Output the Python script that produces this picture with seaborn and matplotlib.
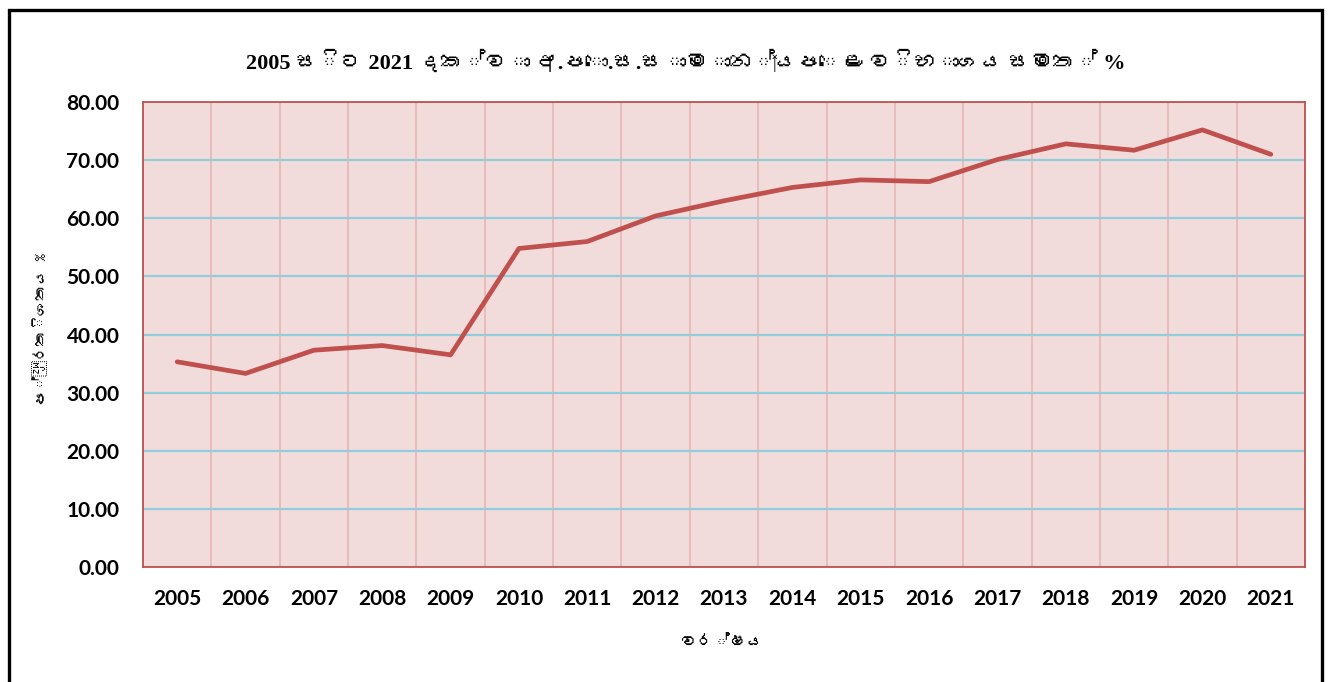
import matplotlib
matplotlib.use("Agg")
import matplotlib.pyplot as plt
from matplotlib import font_manager
from matplotlib.patches import Rectangle
from matplotlib.ticker import MultipleLocator, FixedLocator, FuncFormatter
from matplotlib.ft2font import FT2Font
import seaborn as sns
import pandas as pd

# ---- data ----
years = ["2005", "2006", "2007", "2008", "2009", "2010", "2011", "2012", "2013",
         "2014", "2015", "2016", "2017", "2018", "2019", "2020", "2021"]
pass_pct = [35.3, 33.3, 37.3, 38.1, 36.5, 54.8, 56.0, 60.4, 63.0,
            65.3, 66.6, 66.3, 70.1, 72.8, 71.7, 75.2, 71.0]
title_text = "2005 සිට 2021 දක්වා අ.පො.ස.සාමාන්‍යපෙළ විභාගය සමත් %"
xlabel_text = "වර්ෂය"
ylabel_text = "ප්‍රතිශතය %"

# ---- find a font with Sinhala glyphs, if any ----
sinhala_fams = []
for f in font_manager.findSystemFonts():
    try:
        ft = FT2Font(f)
        cm = ft.get_charmap()
        if 0x0DC3 in cm and 0x0D9A in cm:
            sinhala_fams.append(ft.family_name)
    except Exception:
        pass
sinhala_fams = list(dict.fromkeys(sinhala_fams))

sns.set_theme(style="white")
plt.rcParams["font.family"] = ["Lato"] + sinhala_fams + ["DejaVu Sans"]

df = pd.DataFrame({"year": years, "pct": pass_pct})

fig = plt.figure(figsize=(13.3, 6.82), dpi=100)
ax = fig.add_axes([143 / 1330, 1 - 567 / 682, (1305 - 143) / 1330, (567 - 102) / 682])
ax.set_facecolor("#F2DCDB")

sns.lineplot(data=df, x="year", y="pct", ax=ax, color="#C0504D", linewidth=3.4,
             sort=False, zorder=5)

n = len(years)
ax.set_xlim(-0.5, n - 0.5)
ax.set_ylim(0, 80)
ax.yaxis.set_major_locator(MultipleLocator(10))
ax.yaxis.set_major_formatter(FuncFormatter(lambda v, p: f"{v:.2f}"))
ax.xaxis.set_minor_locator(FixedLocator([i - 0.5 for i in range(n + 1)]))

ax.grid(False)
ax.grid(axis="y", which="major", color="#93CDDD", linewidth=1.6, zorder=1)
ax.grid(axis="x", which="minor", color="#E6B9B8", linewidth=1.3, zorder=1)
ax.set_axisbelow(True)

for s in ax.spines.values():
    s.set_visible(True)
    s.set_color("#C0504D")
    s.set_linewidth(1.3)

ax.tick_params(axis="both", which="both", length=0)
ax.tick_params(axis="y", pad=17)
ax.tick_params(axis="x", pad=16)
for lab in ax.get_xticklabels() + ax.get_yticklabels():
    lab.set_fontweight("bold")
    lab.set_fontsize(15)
    lab.set_color("black")

ax.set_xlabel("")
ax.set_ylabel("")

fig.text(722 / 1330, 1 - 643 / 682, xlabel_text, ha="center", va="center",
         fontsize=12, fontweight="bold", color="black",
         family=sinhala_fams + ["DejaVu Sans"])
fig.text(40 / 1330, 1 - 330 / 682, ylabel_text, ha="center", va="center",
         rotation=90, fontsize=11, fontweight="bold", color="black",
         family=sinhala_fams + ["DejaVu Sans"])
fig.text(686 / 1330, 1 - 62 / 682, title_text, ha="center", va="center",
         fontsize=16, fontweight="bold", color="black",
         family=["Liberation Serif"] + sinhala_fams + ["DejaVu Serif"])

# outer chart border
border = Rectangle((8.5 / 1330, -0.05), (1322 - 8.5) / 1330, 1.05 - 10 / 682,
                   transform=fig.transFigure, fill=False, edgecolor="black",
                   linewidth=2.4, clip_on=False)
fig.patches.append(border)

fig.savefig("out.png", dpi=100)
